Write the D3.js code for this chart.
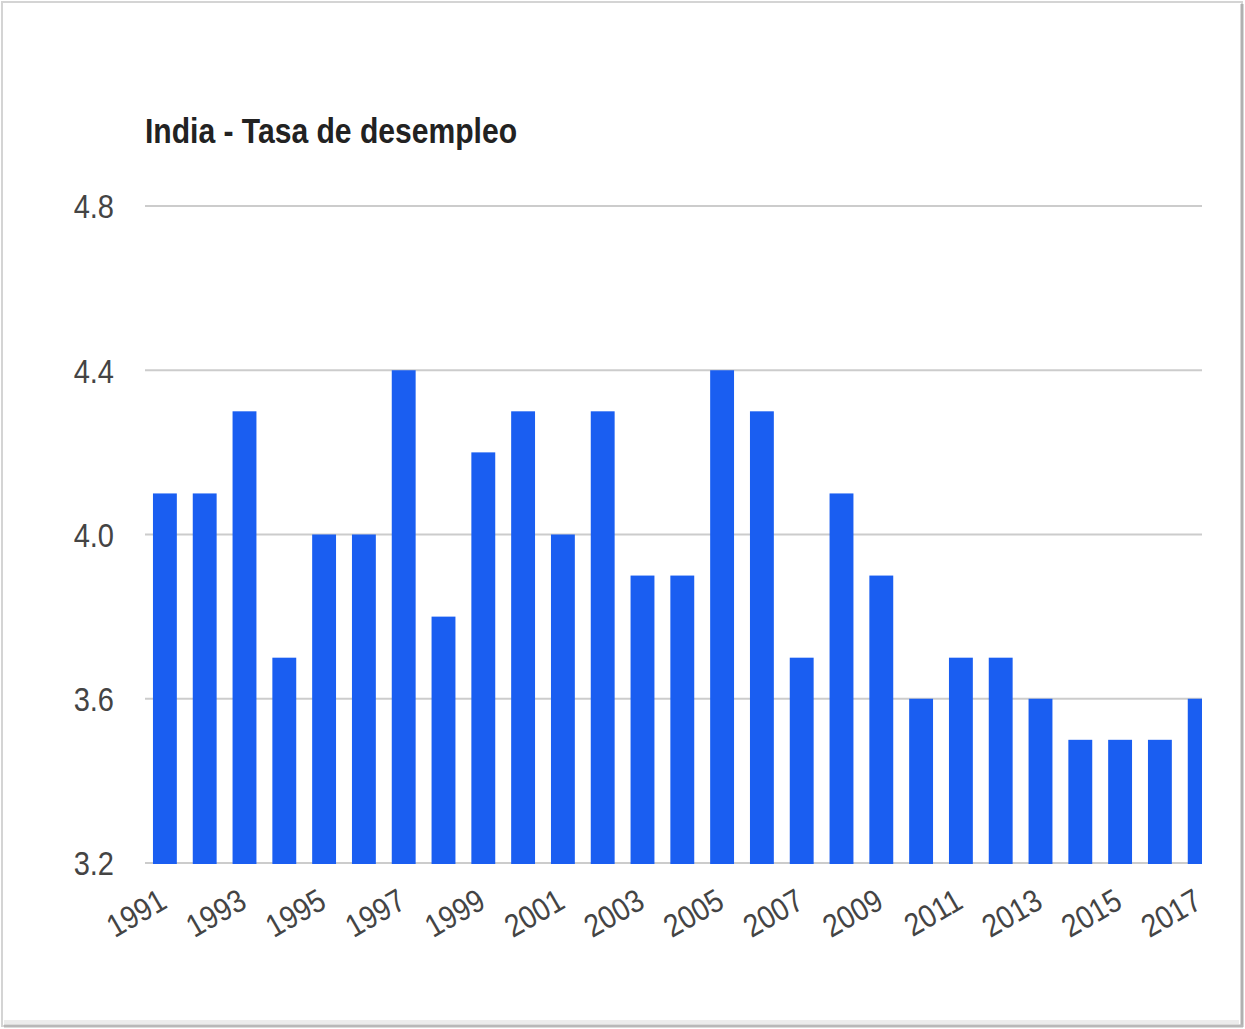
<!DOCTYPE html>
<html>
<head>
<meta charset="utf-8">
<script src="https://cdn.jsdelivr.net/npm/d3@7/dist/d3.min.js"></script>
<style>
  body { margin: 0; background: #fff; }
  svg { display: block; }
</style>
</head>
<body>
<svg id="chart"></svg>
<script>
// data
const years = ["1991","1992","1993","1994","1995","1996","1997","1998","1999","2000",
  "2001","2002","2003","2004","2005","2006","2007","2008","2009","2010",
  "2011","2012","2013","2014","2015","2016","2017"];
const unemployment = [4.1, 4.1, 4.3, 3.7, 4.0, 4.0, 4.4, 3.8, 4.2, 4.3,
  4.0, 4.3, 3.9, 3.9, 4.4, 4.3, 3.7, 4.1, 3.9, 3.6,
  3.7, 3.7, 3.6, 3.5, 3.5, 3.5, 3.6];
const yTicks = [3.2, 3.6, 4.0, 4.4, 4.8];
const titleText = "India - Tasa de desempleo";

const W = 1245, H = 1029;
const plot = { left: 145, right: 1202, top: 206, bottom: 863 };
const labelFont = "'Liberation Sans Narrow', 'Liberation Sans', Arial, sans-serif";

const svg = d3.select("#chart").attr("width", W).attr("height", H);

/* frame with a light shadow */
svg.append("rect")
    .attr("x", 2).attr("y", 2)
    .attr("width", W - 5).attr("height", H - 5)
    .attr("fill", "none")
    .attr("stroke", "#d4d4d4")
    .attr("stroke-width", 2);
svg.append("line")
    .attr("x1", W - 3).attr("x2", W - 3).attr("y1", 4).attr("y2", H - 2)
    .attr("stroke", "#b0b0b0").attr("stroke-width", 3);
svg.append("line")
    .attr("x1", 4).attr("x2", W - 2).attr("y1", H - 3).attr("y2", H - 3)
    .attr("stroke", "#b8b8b8").attr("stroke-width", 3);
svg.append("line")
    .attr("x1", 4).attr("x2", W - 6).attr("y1", H - 7).attr("y2", H - 7)
    .attr("stroke", "#ececec").attr("stroke-width", 4);

/* scales */
const x = d3.scaleBand()
    .domain(years)
    .range([plot.left, plot.left + years.length * 39.8])
    .paddingInner(0.4)
    .paddingOuter(0.2);

const y = d3.scaleLinear()
    .domain([3.2, 4.8])
    .range([plot.bottom, plot.top]);

/* gridlines */
svg.append("g")
    .selectAll("line")
    .data(yTicks)
    .join("line")
    .attr("x1", plot.left).attr("x2", plot.right)
    .attr("y1", d => y(d)).attr("y2", d => y(d))
    .attr("stroke", "#cccccc")
    .attr("stroke-width", 2);

/* y axis labels */
const yAxis = svg.append("g")
    .attr("transform", "translate(" + (plot.left - 31) + ",0)")
    .call(d3.axisLeft(y).tickValues(yTicks).tickFormat(d3.format(".1f")).tickSize(0));
yAxis.select("path.domain").remove();
yAxis.selectAll(".tick text")
    .attr("x", 0)
    .attr("dy", "0.36em")
    .attr("transform", "scale(0.88,1)")
    .attr("fill", "#444")
    .style("font-family", labelFont)
    .style("font-size", "33px");

/* bars, clipped to the plot area */
svg.append("clipPath").attr("id", "plotClip")
    .append("rect")
    .attr("x", plot.left).attr("y", 0)
    .attr("width", plot.right - plot.left).attr("height", H);

svg.append("g")
    .attr("clip-path", "url(#plotClip)")
    .selectAll("rect")
    .data(years)
    .join("rect")
    .attr("x", d => x(d))
    .attr("width", x.bandwidth())
    .attr("y", (d, i) => y(unemployment[i]))
    .attr("height", (d, i) => y(3.2) - y(unemployment[i]) + 1)
    .attr("fill", "#1a5ef1");

/* x axis labels, every other year */
const xAxis = svg.append("g")
    .attr("transform", "translate(0," + plot.bottom + ")")
    .call(d3.axisBottom(x).tickValues(years.filter((d, i) => i % 2 === 0)).tickSize(0));
xAxis.select("path.domain").remove();
xAxis.selectAll(".tick text")
    .attr("y", 0)
    .attr("dy", 0)
    .attr("text-anchor", "end")
    .attr("transform", "translate(4,44) rotate(-30) scale(0.88,1)")
    .attr("fill", "#444")
    .style("font-family", labelFont)
    .style("font-size", "32px");

/* title */
svg.append("text")
    .attr("x", plot.left)
    .attr("y", 143)
    .attr("textLength", 372)
    .attr("lengthAdjust", "spacingAndGlyphs")
    .attr("fill", "#222")
    .style("font-family", labelFont)
    .style("font-weight", "bold")
    .style("font-size", "35px")
    .text(titleText);
</script>
</body>
</html>
